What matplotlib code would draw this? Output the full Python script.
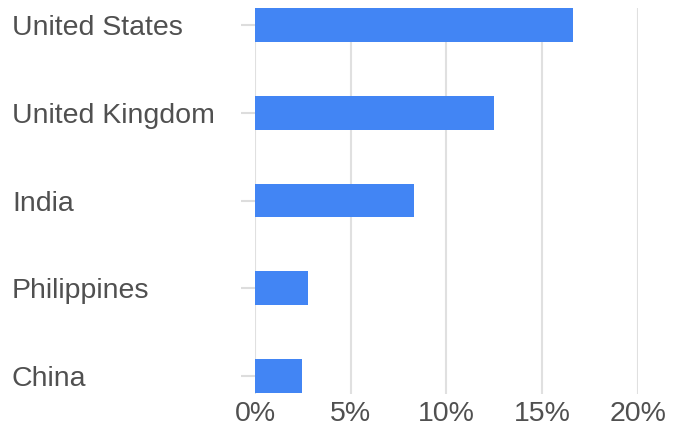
import matplotlib
matplotlib.use("Agg")
import matplotlib.pyplot as plt
from matplotlib.ticker import FuncFormatter

categories = ["United States", "United Kingdom", "India", "Philippines", "China"]
values = [16.6, 12.5, 8.3, 2.75, 2.45]
xticks = [0, 5, 10, 15, 20]

plt.rcParams['font.family'] = ['Liberation Sans', 'DejaVu Sans']

W, H = 678, 428
fig = plt.figure(figsize=(W / 100, H / 100), dpi=100)
left, right, top, bottom = 255, 637.7, 8, 394
ax = fig.add_axes([left / W, (H - bottom) / H, (right - left) / W, (bottom - top) / H])

pos = list(range(len(categories)))
ax.barh(pos, values, height=0.387, color="#4285F4", zorder=3)

ax.set_xlim(0, 20)
ax.set_ylim(4.205, -0.194)
ax.set_xticks(xticks)
ax.xaxis.set_major_formatter(FuncFormatter(lambda v, p: f"{int(v)}%"))
ax.set_yticks(pos)
ax.set_yticklabels(categories)

for s in ax.spines.values():
    s.set_visible(False)

ax.grid(axis="x", color="#e0e0e0", linewidth=1.5, zorder=0)
ax.tick_params(axis="x", length=0, pad=5, labelsize=20.5, labelcolor="#505050")
ax.tick_params(axis="y", length=10, width=1.5, color="#dddddd", direction="out",
               pad=165, labelsize=20.5, labelcolor="#505050")
for lab in ax.get_yticklabels():
    lab.set_horizontalalignment("left")

fig.savefig("out.png", dpi=100)
